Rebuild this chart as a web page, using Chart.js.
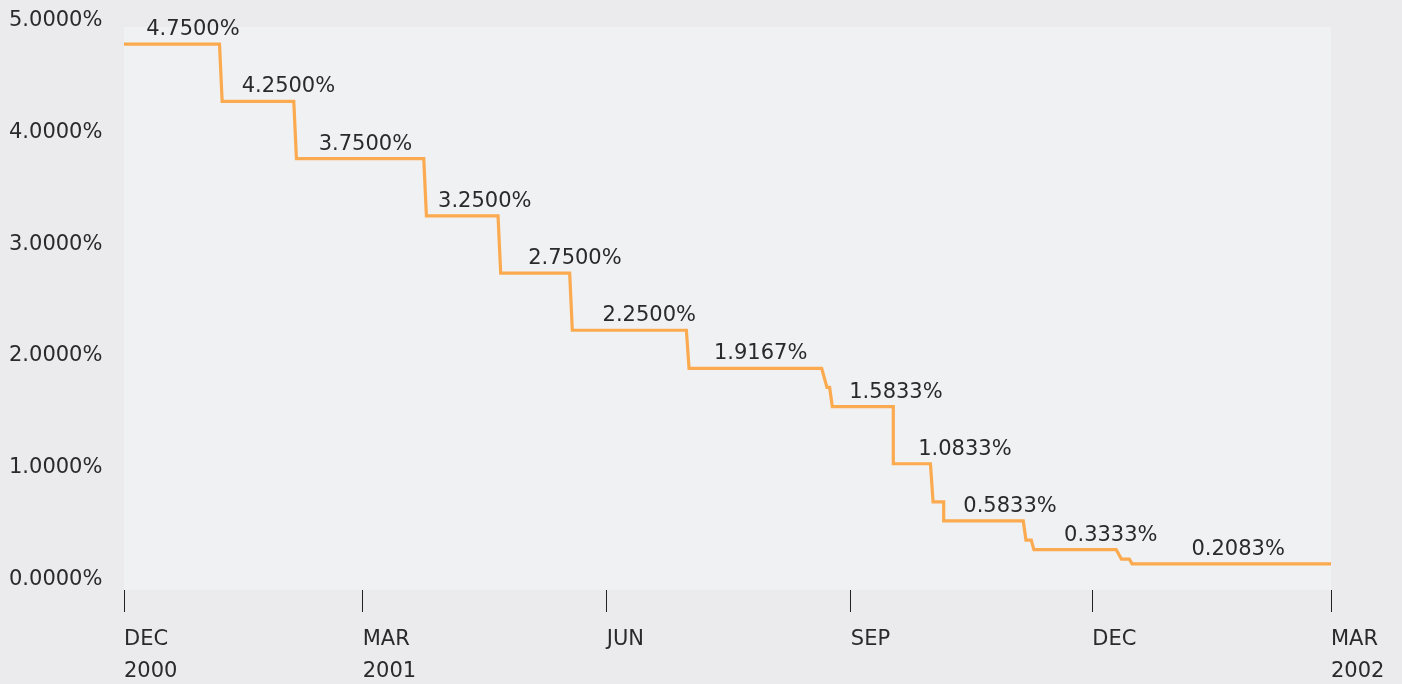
<!DOCTYPE html>
<html>
<head>
<meta charset="utf-8">
<script src="https://cdn.jsdelivr.net/npm/chart.js@4/dist/chart.umd.min.js"></script>
<style>
	html, body { margin: 0; padding: 0; background: #ebebed; }
	canvas { display: block; }
</style>
</head>
<body>
<canvas id="rates" width="1402" height="684"></canvas>
<script>
// days counted from 1 Dec 2000
const rateDays = [0, 36, 37, 64, 65, 113, 114, 141, 142, 168, 169, 212, 213, 263, 265, 266, 267, 290, 290, 304, 305, 309, 309, 339, 340, 342, 343, 374, 376, 379, 380, 455]
const rateValues = [4.75, 4.75, 4.25, 4.25, 3.75, 3.75, 3.25, 3.25, 2.75, 2.75, 2.25, 2.25, 1.9167, 1.9167, 1.75, 1.75, 1.5833, 1.5833, 1.0833, 1.0833, 0.75, 0.75, 0.5833, 0.5833, 0.4167, 0.4167, 0.3333, 0.3333, 0.25, 0.25, 0.2083, 0.2083]

const stepValues = [4.75, 4.25, 3.75, 3.25, 2.75, 2.25, 1.9167, 1.5833, 1.0833, 0.5833, 0.3333, 0.2083]
const stepLabelDays = [26, 62, 91, 136, 170, 198, 240, 291, 317, 334, 372, 420]

const tickDays = [0, 90, 182, 274, 365, 455]
const tickLabels = [['DEC', '2000'], ['MAR', '2001'], ['JUN', ''], ['SEP', ''], ['DEC', ''], ['MAR', '2002']]
const yTicks = [0, 1, 2, 3, 4, 5]

const textColor = '#2a2a2a'
const lineColor = '#fbaa4f'

Chart.defaults.font.family = "'DejaVu Sans', sans-serif"
Chart.defaults.font.size = 21
Chart.defaults.color = textColor

const plotBackground = {
	id: 'plotBackground',
	beforeDraw(chart) {
		const { ctx, chartArea } = chart
		ctx.save()
		ctx.fillStyle = '#ebebed'
		ctx.fillRect(0, 0, chart.width, chart.height)
		ctx.fillStyle = '#f0f1f3'
		ctx.fillRect(chartArea.left, chartArea.top, chartArea.right - chartArea.left, chartArea.bottom - chartArea.top)
		ctx.restore()
	},
}

const stepLabels = {
	id: 'stepLabels',
	afterDatasetsDraw(chart) {
		const { ctx, scales } = chart
		ctx.save()
		ctx.font = "21px 'DejaVu Sans', sans-serif"
		ctx.fillStyle = textColor
		ctx.textAlign = 'center'
		ctx.textBaseline = 'alphabetic'
		stepValues.forEach((value, i) => {
			const x = scales.x.getPixelForValue(stepLabelDays[i])
			const y = scales.y.getPixelForValue(value) - 9
			ctx.fillText(value.toFixed(4) + '%', x, y)
		})
		ctx.restore()
	},
}

new Chart(document.getElementById('rates').getContext('2d'), {
	type: 'line',
	data: {
		datasets: [{
			data: rateDays.map((day, i) => ({ x: day, y: rateValues[i] })),
			borderColor: lineColor,
			borderWidth: 3.2,
			borderJoinStyle: 'miter',
			pointRadius: 0,
			tension: 0,
			fill: false,
		}],
	},
	options: {
		responsive: false,
		animation: false,
		layout: {
			padding: { top: 27, right: 71, left: 9, bottom: 0 },
		},
		plugins: {
			legend: { display: false },
			tooltip: { enabled: false },
		},
		scales: {
			x: {
				type: 'linear',
				min: 0,
				max: 455,
				afterBuildTicks: (axis) => {
					axis.ticks = tickDays.map((v) => ({ value: v }))
				},
				afterFit: (axis) => {
					axis.height = 94
				},
				border: { display: false },
				grid: {
					drawOnChartArea: false,
					drawTicks: true,
					tickLength: 22,
					color: '#222',
					lineWidth: 1,
				},
				ticks: {
					autoSkip: false,
					maxRotation: 0,
					align: 'start',
					padding: 12,
					font: { lineHeight: '32px' },
					callback: (value) => tickLabels[tickDays.indexOf(value)],
				},
			},
			y: {
				display: false,
				min: -0.02,
				max: 4.9,
			},
			yLabels: {
				position: 'left',
				min: -0.0967,
				max: 4.944,
				afterBuildTicks: (axis) => {
					axis.ticks = yTicks.map((v) => ({ value: v }))
				},
				afterFit: (axis) => {
					axis.width = 115
				},
				border: { display: false },
				grid: { display: false, drawTicks: false },
				ticks: {
					autoSkip: false,
					padding: 0,
					crossAlign: 'far',
					callback: (value) => value.toFixed(4) + '%',
				},
			},
		},
	},
	plugins: [plotBackground, stepLabels],
})
</script>
</body>
</html>
